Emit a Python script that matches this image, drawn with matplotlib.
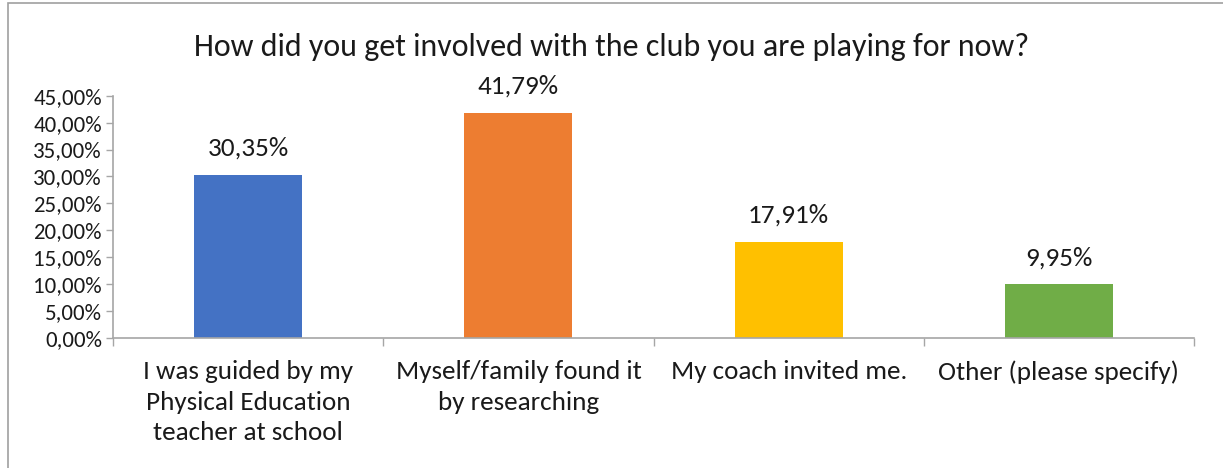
import matplotlib
matplotlib.use("Agg")
import matplotlib.pyplot as plt
import matplotlib.ticker as ticker
from matplotlib.patches import Rectangle

plt.rcParams['font.family'] = ['Carlito', 'Lato', 'DejaVu Sans']

# survey answers
categories = ["I was guided by my\nPhysical Education\nteacher at school",
              "Myself/family found it\nby researching",
              "My coach invited me.",
              "Other (please specify)"]
shares = [30.35, 41.79, 17.91, 9.95]
bar_colors = ["#4472c4", "#ed7d31", "#ffc000", "#70ad47"]
y_ticks = [0, 5, 10, 15, 20, 25, 30, 35, 40, 45]

axis_grey = "#a6a6a6"

fig = plt.figure(figsize=(12.23, 4.68), dpi=100)
# chart area frame
fig.patches.append(Rectangle((8 / 1223, -0.1), 1.2, 1 - 3 / 468 + 0.1,
                             transform=fig.transFigure, fill=False,
                             edgecolor="#a0a0a0", linewidth=1.2))

ax = fig.add_axes([0.0924, 0.2778, 0.8839, 0.5177])
x = list(range(len(categories)))
bars = ax.bar(x, shares, width=0.40, color=bar_colors)

for b, v in zip(bars, shares):
    ax.annotate("{:.2f}%".format(v).replace(".", ","),
                (b.get_x() + b.get_width() / 2, v),
                xytext=(0, 11), textcoords="offset points",
                ha="center", va="bottom", fontsize=19.5, color="#1a1a1a")

ax.set_xlim(-0.5, len(categories) - 0.5)
ax.set_ylim(0, 45)
ax.set_yticks(y_ticks)
ax.yaxis.set_major_formatter(ticker.FuncFormatter(lambda v, p: "{:.2f}%".format(v).replace(".", ",")))
ax.tick_params(axis="y", labelsize=16.5, colors=axis_grey, labelcolor="#1a1a1a",
               length=5, width=1, pad=3)

# category boundary ticks, labels sit between them
ax.set_xticks([i - 0.5 for i in range(len(categories) + 1)])
ax.set_xticklabels([])
ax.set_xticks(x, minor=True)
ax.set_xticklabels(categories, minor=True, fontsize=19.5, color="#1a1a1a", linespacing=1.4)
ax.tick_params(axis="x", which="major", length=6, width=1, colors=axis_grey)
ax.tick_params(axis="x", which="minor", length=0, pad=16)

for s in ["top", "right"]:
    ax.spines[s].set_visible(False)
for s in ["left", "bottom"]:
    ax.spines[s].set_color(axis_grey)
    ax.spines[s].set_linewidth(1.2)

fig.text(0.5, 1 - 47 / 468, "How did you get involved with the club you are playing for now?",
         ha="center", va="center", fontsize=23, color="#1a1a1a")

fig.savefig("out.png", dpi=100)
